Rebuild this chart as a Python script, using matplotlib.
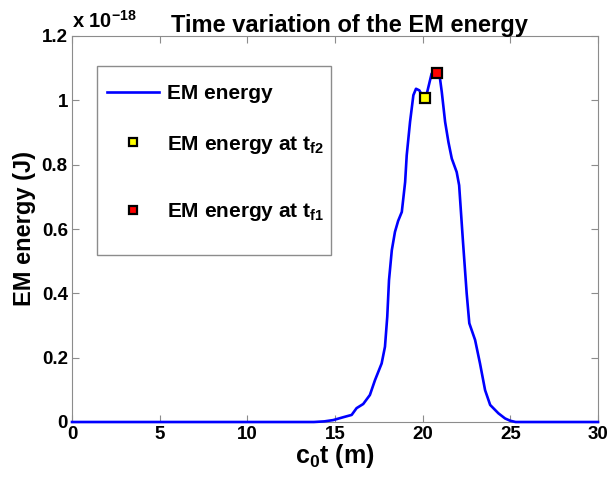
import matplotlib
matplotlib.use("Agg")
import matplotlib.pyplot as plt
from matplotlib.patches import Rectangle

plt.rcParams['font.family'] = ['Liberation Sans', 'DejaVu Sans']
plt.rcParams['font.weight'] = 'bold'
plt.rcParams['mathtext.fontset'] = 'custom'
plt.rcParams['mathtext.rm'] = 'Liberation Sans:bold'
plt.rcParams['mathtext.bf'] = 'Liberation Sans:bold'
plt.rcParams['mathtext.it'] = 'Liberation Sans:bold'

# Data, energy in units of 1e-18 J
t_m = [0, 13.8, 14.4, 14.9, 15.48, 15.95, 16.23, 16.61, 16.99, 17.28, 17.66, 17.85, 17.98,
       18.08, 18.24, 18.42, 18.6, 18.81, 19.0, 19.09, 19.28, 19.47, 19.62, 19.81, 20.0,
       20.14, 20.26, 20.51, 20.7, 20.84, 20.99, 21.09, 21.28, 21.47, 21.66, 21.94, 22.08,
       22.15, 22.3, 22.51, 22.66, 22.99, 23.27, 23.56, 23.85, 24.32, 24.70, 24.99, 25.3, 30]
energy = [0, 0, 0.002, 0.006, 0.015, 0.022, 0.043, 0.056, 0.084, 0.130, 0.182, 0.234, 0.327,
          0.441, 0.534, 0.591, 0.625, 0.653, 0.746, 0.829, 0.933, 1.016, 1.036, 1.031, 1.012,
          1.007, 1.026, 1.083, 1.087, 1.086, 1.067, 1.026, 0.933, 0.870, 0.819, 0.777, 0.736,
          0.68, 0.56, 0.400, 0.307, 0.255, 0.182, 0.099, 0.053, 0.027, 0.011, 0.004, 0, 0]
t_f2 = [20.14]
e_f2 = [1.007]
t_f1 = [20.84]
e_f1 = [1.086]
xticks = [0, 5, 10, 15, 20, 25, 30]
yticks = [0, 0.2, 0.4, 0.6, 0.8, 1.0, 1.2]
ytick_labels = ['0', '0.2', '0.4', '0.6', '0.8', '1', '1.2']

W, H = 611, 479
AX_L, AX_R, AX_T, AX_B = 72, 598, 36, 422
fig = plt.figure(figsize=(W / 100, H / 100), dpi=100)
ax = fig.add_axes([AX_L / W, (H - AX_B) / H, (AX_R - AX_L) / W, (AX_B - AX_T) / H])


def fx(px):
    return (px - AX_L) / (AX_R - AX_L)


def fy(py):
    return (AX_B - py) / (AX_B - AX_T)


line, = ax.plot(t_m, energy, color='#0000ff', lw=1.9, label='EM energy', clip_on=False,
                zorder=3)
m2, = ax.plot(t_f2, e_f2, 's', ms=6.5, mfc='yellow', mec='black', mew=1.6, ls='none',
              label='EM energy at t$_{\\mathrm{f2}}$', zorder=4)
m1, = ax.plot(t_f1, e_f1, 's', ms=6.5, mfc='red', mec='black', mew=1.6, ls='none',
              label='EM energy at t$_{\\mathrm{f1}}$', zorder=4)

ax.set_xlim(0, 30)
ax.set_ylim(0, 1.2)
ax.set_xticks(xticks)
ax.set_yticks(yticks)
ax.set_yticklabels(ytick_labels)
ax.tick_params(direction='in', top=True, right=True, labelsize=13.5, color='#8c8c8c',
               length=5, pad=3)
for lab in ax.get_xticklabels() + ax.get_yticklabels():
    lab.set_fontweight('bold')
for s in ax.spines.values():
    s.set_color('#8c8c8c')
    s.set_zorder(2)

ax.set_xlabel('c$_{\\mathrm{0}}$t (m)', fontsize=18, fontweight='bold', labelpad=-1)
ax.set_ylabel('EM energy (J)', fontsize=17, fontweight='bold', labelpad=4)
ax.set_title('Time variation of the EM energy', fontsize=17, fontweight='bold', pad=3,
             x=0.527)
ax.text(0.0, 1.012, 'x 10$^{\\mathrm{-18}}$', transform=ax.transAxes, fontsize=14.5,
        fontweight='bold', ha='left', va='bottom')

# legend frame
ax.add_patch(Rectangle((fx(97), fy(255)), fx(331) - fx(97), fy(66) - fy(255),
                       transform=ax.transAxes, facecolor='white', edgecolor='#8c8c8c',
                       lw=1.0, zorder=4.5, clip_on=False))

rows = [(line, 93.8), (m2, 144.5), (m1, 212.0)]
for i, (h, yc) in enumerate(rows):
    lg = ax.legend([h], [h.get_label()], loc='center left',
                   bbox_to_anchor=(fx(107), fy(yc)), borderaxespad=0, borderpad=0,
                   frameon=False, handlelength=2.5, handletextpad=0.37,
                   markerscale=0.8, prop={'weight': 'bold', 'size': 15})
    lg.set_zorder(5)
    if i < len(rows) - 1:
        ax.add_artist(lg)

fig.savefig('out.png', dpi=100)
